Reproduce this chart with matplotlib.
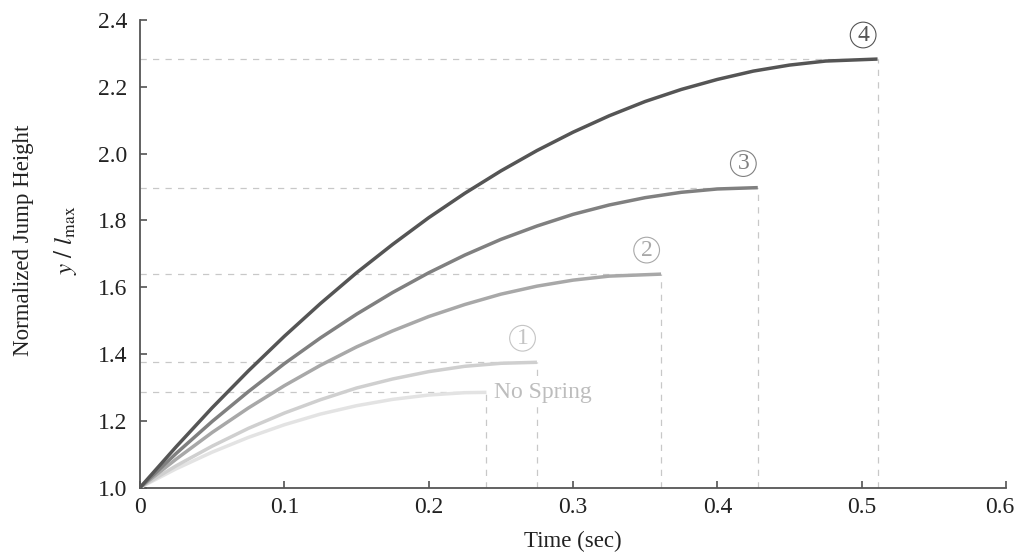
import matplotlib
matplotlib.use("Agg")
import matplotlib.pyplot as plt
import matplotlib.transforms as mtransforms

plt.rcParams["font.family"] = ["Liberation Serif", "DejaVu Serif"]
plt.rcParams["mathtext.fontset"] = "stix"

# values (time in sec, height y / l_max)
t_nospring = [0, 0.025, 0.05, 0.075, 0.1, 0.125, 0.15, 0.175, 0.2, 0.225, 0.24]
h_nospring = [1.0, 1.056, 1.106, 1.150, 1.188, 1.220, 1.245, 1.264, 1.277, 1.284, 1.285]

t_1 = [0, 0.025, 0.05, 0.075, 0.1, 0.125, 0.15, 0.175, 0.2, 0.225, 0.25, 0.275]
h_1 = [1.0, 1.065, 1.124, 1.177, 1.223, 1.263, 1.298, 1.325, 1.347, 1.363, 1.372, 1.375]

t_2 = [0, 0.025, 0.05, 0.075, 0.1, 0.125, 0.15, 0.175, 0.2, 0.225, 0.25, 0.275,
       0.3, 0.325, 0.361]
h_2 = [1.0, 1.085, 1.165, 1.238, 1.305, 1.366, 1.421, 1.469, 1.512, 1.548, 1.579,
       1.603, 1.621, 1.633, 1.639]

t_3 = [0, 0.025, 0.05, 0.075, 0.1, 0.125, 0.15, 0.175, 0.2, 0.225, 0.25, 0.275,
       0.3, 0.325, 0.35, 0.375, 0.4, 0.428]
h_3 = [1.0, 1.102, 1.198, 1.287, 1.371, 1.448, 1.519, 1.584, 1.643, 1.696, 1.743,
       1.783, 1.818, 1.846, 1.868, 1.884, 1.894, 1.898]

t_4 = [0, 0.025, 0.05, 0.075, 0.1, 0.125, 0.15, 0.175, 0.2, 0.225, 0.25, 0.275,
       0.3, 0.325, 0.35, 0.375, 0.4, 0.425, 0.45, 0.475, 0.511]
h_4 = [1.0, 1.122, 1.239, 1.349, 1.453, 1.551, 1.643, 1.728, 1.808, 1.881, 1.948,
       2.009, 2.064, 2.113, 2.156, 2.192, 2.222, 2.247, 2.265, 2.277, 2.283]

labels = ["No Spring", "1", "2", "3", "4"]
colors = ["#e3e3e3", "#cfcfcf", "#a8a8a8", "#808080", "#555555"]
label_colors = ["#bdbdbd", "#c4c4c4", "#a8a8a8", "#808080", "#555555"]

x_ticks = [0, 0.1, 0.2, 0.3, 0.4, 0.5, 0.6]
x_ticklabels = ["0", "0.1", "0.2", "0.3", "0.4", "0.5", "0.6"]
y_ticks = [1.0, 1.2, 1.4, 1.6, 1.8, 2.0, 2.2, 2.4]
y_ticklabels = ["1.0", "1.2", "1.4", "1.6", "1.8", "2.0", "2.2", "2.4"]

series = [(t_nospring, h_nospring), (t_1, h_1), (t_2, h_2), (t_3, h_3), (t_4, h_4)]

fig = plt.figure(figsize=(10.2, 5.52), dpi=100)
ax = fig.add_axes([0.1373, 0.1168, 0.8490, 0.8470])

guide = "#c8c8c8"
for (t, h), lab, col, lcol in zip(series, labels, colors, label_colors):
    tx, hy = t[-1], h[-1]
    ax.plot([0, tx], [hy, hy], color=guide, lw=0.9, ls=(0, (5, 5)), zorder=1)
    ax.plot([tx, tx], [1.0, hy], color=guide, lw=0.9, ls=(0, (5, 5)), zorder=1)
    ax.plot(t, h, color=col, lw=2.5, solid_capstyle="butt", zorder=3)
    if lab == "No Spring":
        ax.text(tx + 0.005, hy, lab, color=lcol, fontsize=17,
                ha="left", va="center", zorder=4,
                bbox=dict(boxstyle="square,pad=0.05", fc="white", ec="none"))
    else:
        ax.text(tx - 0.01, hy + 0.072, lab, color=lcol,
                fontsize=17, ha="center", va="center", zorder=4,
                bbox=dict(boxstyle="circle,pad=0.1", fc="white",
                          ec=lcol, lw=0.8))

ax.set_xlim(0, 0.6)
ax.set_ylim(1.0, 2.4)
ax.set_xticks(x_ticks)
ax.set_xticklabels(x_ticklabels)
ax.set_yticks(y_ticks)
ax.set_yticklabels(y_ticklabels)

for side in ["top", "right"]:
    ax.spines[side].set_visible(False)
for side in ["left", "bottom"]:
    ax.spines[side].set_color("#555555")
    ax.spines[side].set_linewidth(1.3)
ax.tick_params(direction="in", length=5, width=1.1, color="#444444",
               labelsize=17, labelcolor="#222222")
ax.tick_params(axis="x", pad=7)
ax.tick_params(axis="y", pad=9)

# keep the last x label inside the canvas
last = ax.get_xticklabels()[-1]
last.set_transform(last.get_transform() +
                   mtransforms.ScaledTranslation(-6 / 100, 0, fig.dpi_scale_trans))

ax.set_xlabel("Time (sec)", fontsize=16.5, color="#222222", labelpad=9)
fig.text(0.023, 0.565, "Normalized Jump Height", rotation=90, fontsize=16.5,
         color="#222222", ha="center", va="center")
fig.text(0.064, 0.565, r"$y\ /\ l_{\mathrm{max}}$", rotation=90, fontsize=18,
         color="#222222", ha="center", va="center")

fig.savefig("out.png", dpi=100)
